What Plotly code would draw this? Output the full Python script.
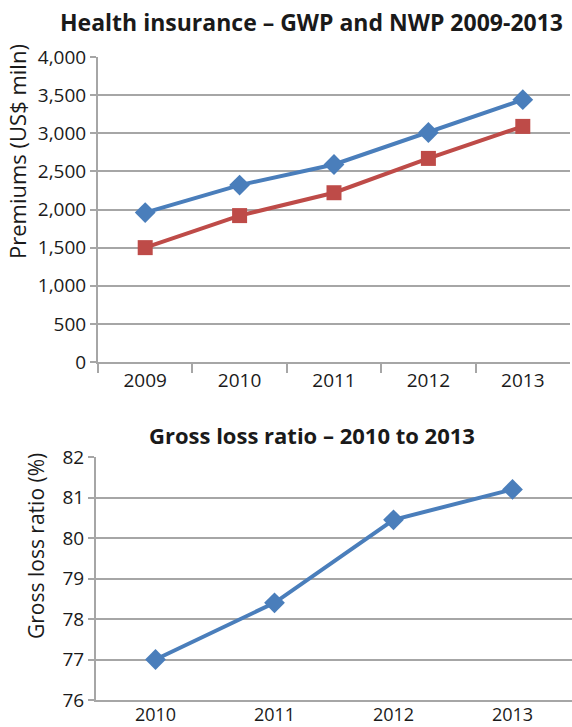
import plotly.graph_objects as go

# Health insurance premiums (US$ miln)
years_prem = ["2009", "2010", "2011", "2012", "2013"]
gwp = [1960, 2320, 2590, 3010, 3440]
nwp = [1500, 1920, 2220, 2670, 3090]

# Gross loss ratio (%)
years_loss = ["2010", "2011", "2012", "2013"]
loss_ratio = [77.0, 78.4, 80.45, 81.2]

W, H = 572, 727
BLUE = "#4A7EBB"
RED = "#BE4B48"
GRID = "#A6A6A6"
TXT = "#1a1a1a"
FONT = "Open Sans"


def py(px):
    return 1 - px / H


def px_x(px):
    return px / W


fig = go.Figure()

fig.add_trace(go.Scatter(
    x=years_prem, y=gwp, mode="lines+markers", name="GWP",
    line=dict(color=BLUE, width=4),
    marker=dict(symbol="diamond", size=16, color=BLUE),
    xaxis="x", yaxis="y",
))
fig.add_trace(go.Scatter(
    x=years_prem, y=nwp, mode="lines+markers", name="NWP",
    line=dict(color=RED, width=4),
    marker=dict(symbol="square", size=15, color=RED),
    xaxis="x", yaxis="y",
))
fig.add_trace(go.Scatter(
    x=years_loss, y=loss_ratio, mode="lines+markers", name="Gross loss ratio",
    line=dict(color=BLUE, width=4),
    marker=dict(symbol="diamond", size=16, color=BLUE),
    xaxis="x2", yaxis="y2",
))

axis_common = dict(
    showline=True, linecolor=GRID, linewidth=2,
    zeroline=False, automargin=False,
)
tick_font = dict(family=FONT, size=19, color=TXT)

fig.update_layout(
    width=W, height=H,
    margin=dict(l=0, r=0, t=0, b=0, pad=0),
    paper_bgcolor="white", plot_bgcolor="white",
    showlegend=False,
    font=dict(family=FONT, color=TXT),
    xaxis=dict(
        domain=[px_x(98), px_x(570)], anchor="y", type="category",
        range=[-0.5, len(years_prem) - 0.5], tickfont=tick_font,
        ticks="outside", tickson="boundaries", ticklen=9, tickwidth=2,
        tickcolor=GRID, showgrid=False, **axis_common,
    ),
    yaxis=dict(
        domain=[py(362), py(57)], anchor="x", range=[0, 4000], dtick=500,
        tickformat=",", ticks="outside", ticklen=6, tickwidth=2, tickcolor=GRID,
        tickfont=tick_font,
        showgrid=True, gridcolor=GRID, gridwidth=2, **axis_common,
    ),
    xaxis2=dict(
        domain=[px_x(96), 1.0], anchor="y2", type="category",
        range=[-0.5, len(years_loss) - 0.5],
        tickfont=dict(family=FONT, size=18, color=TXT), ticklabelstandoff=-3,
        ticks="", showgrid=False, **axis_common,
    ),
    yaxis2=dict(
        domain=[py(700), py(457)], anchor="x2", range=[76, 82], dtick=1,
        ticks="outside", ticklen=6, tickwidth=2, tickcolor=GRID,
        tickfont=tick_font,
        showgrid=True, gridcolor=GRID, gridwidth=2, **axis_common,
    ),
    annotations=[
        dict(text="<b>Health insurance – GWP and NWP 2009-2013</b>",
             x=px_x(311), y=py(22), xref="paper", yref="paper",
             xanchor="center", yanchor="middle", showarrow=False,
             font=dict(family=FONT, size=23, color=TXT)),
        dict(text="Premiums (US$ miln)", textangle=-90,
             x=px_x(17), y=py(152), xref="paper", yref="paper",
             xanchor="center", yanchor="middle", showarrow=False,
             font=dict(family=FONT, size=22, color=TXT)),
        dict(text="<b>Gross loss ratio – 2010 to 2013</b>",
             x=px_x(312), y=py(435), xref="paper", yref="paper",
             xanchor="center", yanchor="middle", showarrow=False,
             font=dict(family=FONT, size=22, color=TXT)),
        dict(text="Gross loss ratio (%)", textangle=-90,
             x=px_x(36), y=py(546), xref="paper", yref="paper",
             xanchor="center", yanchor="middle", showarrow=False,
             font=dict(family=FONT, size=21, color=TXT)),
    ],
)

fig.write_html("out.html")
